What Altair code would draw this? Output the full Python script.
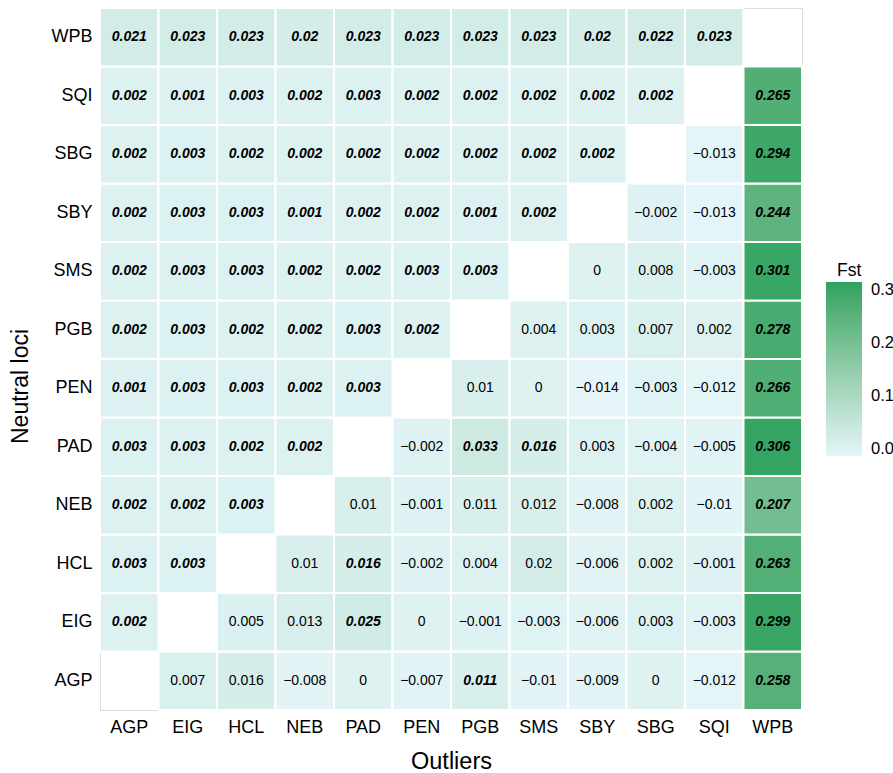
import altair as alt
import pandas as pd

# Populations, in axis order (left-to-right on x, bottom-to-top on y)
pops = ["AGP", "EIG", "HCL", "NEB", "PAD", "PEN", "PGB", "SMS", "SBY", "SBG", "SQI", "WPB"]

# Pairwise Fst per neutral-loci row (columns follow `pops`); None = no cell
fst_agp = [None, 0.007, 0.016, -0.008, 0, -0.007, 0.011, -0.01, -0.009, 0, -0.012, 0.258]
fst_eig = [0.002, None, 0.005, 0.013, 0.025, 0, -0.001, -0.003, -0.006, 0.003, -0.003, 0.299]
fst_hcl = [0.003, 0.003, None, 0.01, 0.016, -0.002, 0.004, 0.02, -0.006, 0.002, -0.001, 0.263]
fst_neb = [0.002, 0.002, 0.003, None, 0.01, -0.001, 0.011, 0.012, -0.008, 0.002, -0.01, 0.207]
fst_pad = [0.003, 0.003, 0.002, 0.002, None, -0.002, 0.033, 0.016, 0.003, -0.004, -0.005, 0.306]
fst_pen = [0.001, 0.003, 0.003, 0.002, 0.003, None, 0.01, 0, -0.014, -0.003, -0.012, 0.266]
fst_pgb = [0.002, 0.003, 0.002, 0.002, 0.003, 0.002, None, 0.004, 0.003, 0.007, 0.002, 0.278]
fst_sms = [0.002, 0.003, 0.003, 0.002, 0.002, 0.003, 0.003, None, 0, 0.008, -0.003, 0.301]
fst_sby = [0.002, 0.003, 0.003, 0.001, 0.002, 0.002, 0.001, 0.002, None, -0.002, -0.013, 0.244]
fst_sbg = [0.002, 0.003, 0.002, 0.002, 0.002, 0.002, 0.002, 0.002, 0.002, None, -0.013, 0.294]
fst_sqi = [0.002, 0.001, 0.003, 0.002, 0.003, 0.002, 0.002, 0.002, 0.002, 0.002, None, 0.265]
fst_wpb = [0.021, 0.023, 0.023, 0.02, 0.023, 0.023, 0.023, 0.023, 0.02, 0.022, 0.023, None]

# Significance flags (1 = significant, shown bold italic)
sig_agp = [0, 0, 0, 0, 0, 0, 1, 0, 0, 0, 0, 1]
sig_eig = [1, 0, 0, 0, 1, 0, 0, 0, 0, 0, 0, 1]
sig_hcl = [1, 1, 0, 0, 1, 0, 0, 0, 0, 0, 0, 1]
sig_neb = [1, 1, 1, 0, 0, 0, 0, 0, 0, 0, 0, 1]
sig_pad = [1, 1, 1, 1, 0, 0, 1, 1, 0, 0, 0, 1]
sig_pen = [1, 1, 1, 1, 1, 0, 0, 0, 0, 0, 0, 1]
sig_pgb = [1, 1, 1, 1, 1, 1, 0, 0, 0, 0, 0, 1]
sig_sms = [1, 1, 1, 1, 1, 1, 1, 0, 0, 0, 0, 1]
sig_sby = [1, 1, 1, 1, 1, 1, 1, 1, 0, 0, 0, 1]
sig_sbg = [1, 1, 1, 1, 1, 1, 1, 1, 1, 0, 0, 1]
sig_sqi = [1, 1, 1, 1, 1, 1, 1, 1, 1, 1, 0, 1]
sig_wpb = [1, 1, 1, 1, 1, 1, 1, 1, 1, 1, 1, 0]

rows = [
    ("AGP", fst_agp, sig_agp), ("EIG", fst_eig, sig_eig), ("HCL", fst_hcl, sig_hcl),
    ("NEB", fst_neb, sig_neb), ("PAD", fst_pad, sig_pad), ("PEN", fst_pen, sig_pen),
    ("PGB", fst_pgb, sig_pgb), ("SMS", fst_sms, sig_sms), ("SBY", fst_sby, sig_sby),
    ("SBG", fst_sbg, sig_sbg), ("SQI", fst_sqi, sig_sqi), ("WPB", fst_wpb, sig_wpb),
]

records = []
for neutral, vals, sigs in rows:
    for outlier, v, s in zip(pops, vals, sigs):
        if v is None:
            continue
        records.append({"neutral": neutral, "outlier": outlier, "fst": v, "sig": s})
df = pd.DataFrame(records)

FONT = "Liberation Sans"

base = alt.Chart(df).encode(
    x=alt.X(
        "outlier:N", sort=pops, title="Outliers",
        scale=alt.Scale(paddingInner=0, paddingOuter=0),
        axis=alt.Axis(labelAngle=0, ticks=False, domain=False, grid=False,
                      labelFontSize=18, labelPadding=8, labelColor="black",
                      titleFontSize=23.5, titleFontWeight="normal", titleColor="black",
                      titlePadding=13, labelFont=FONT, titleFont=FONT),
    ),
    y=alt.Y(
        "neutral:N", sort=pops[::-1], title="Neutral loci",
        scale=alt.Scale(paddingInner=0, paddingOuter=0),
        axis=alt.Axis(ticks=False, domain=False, grid=False,
                      labelFontSize=18, labelPadding=8, labelColor="black",
                      titleFontSize=23, titleFontWeight="normal", titleColor="black",
                      titlePadding=18, titleY=378, labelFont=FONT, titleFont=FONT),
    ),
)

cells = base.mark_rect(stroke="white", strokeWidth=2).encode(
    color=alt.Color(
        "fst:Q",
        scale=alt.Scale(domain=[-0.014, 0.315], range=["#e5f5f9", "#2ca25f"],
                        interpolate="lab", clamp=True),
        legend=alt.Legend(
            title=None, orient="none", legendX=726, legendY=274,
            direction="vertical", gradientLength=174, gradientThickness=36,
            gradientStrokeWidth=0, values=[0, 0.1, 0.2, 0.3], format=".1f",
            labelFontSize=16.5, labelOffset=9, labelColor="black", labelFont=FONT,
            labelOverlap=False,
        ),
    )
)

sig_text = base.transform_filter("datum.sig == 1").mark_text(
    font=FONT, fontSize=14, fontWeight="bold", fontStyle="italic", color="black"
).encode(text=alt.Text("fst:Q", format=".3~f"))

plain_text = base.transform_filter("datum.sig == 0").mark_text(
    font=FONT, fontSize=14, color="black"
).encode(text=alt.Text("fst:Q", format=".3~f"))

# Colour-bar heading, placed above the gradient legend
chart = alt.layer(cells, sig_text, plain_text).properties(
    width=702, height=702,
    title=alt.TitleParams("Fst", anchor="start", frame="group", orient="top",
                          dx=737, dy=294, fontSize=17.5, fontWeight="normal",
                          font=FONT, color="black", baseline="bottom"),
    autosize=alt.AutoSizeParams(type="none"),
    padding={"left": 100, "top": 8, "right": 91, "bottom": 63},
).configure_view(strokeWidth=0).configure(font=FONT)

chart.save("out.html", embed_options={"renderer": "svg", "actions": False})
